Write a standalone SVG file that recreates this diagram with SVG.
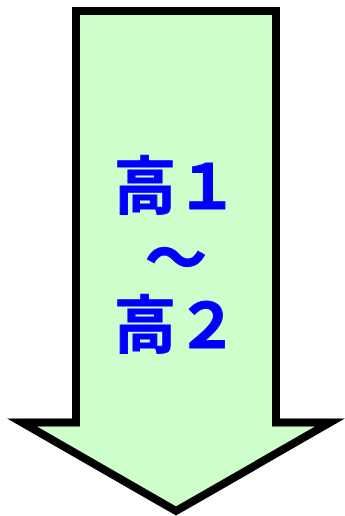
<svg xmlns="http://www.w3.org/2000/svg" width="345" height="516" viewBox="0 0 345 516">
<style>
.arrow{fill:#CCFFCC;stroke:#000;stroke-width:8;stroke-linejoin:miter;stroke-miterlimit:10}
.lbl{font-family:"Noto Sans CJK JP","Noto Sans",sans-serif;font-weight:bold;font-size:62px;fill:#0000FF;text-anchor:middle;stroke:#0000FF;stroke-width:1}
</style>
<g id="arrow">
<path class="arrow" d="M76,11 H276 V422.5 H330 L176,511 L22,422.5 H76 Z"/>
</g>
<g id="label">
<text class="lbl" x="176" y="209">高１</text>
<text class="lbl" x="176" y="281">～</text>
<text class="lbl" x="176" y="348">高２</text>
</g>
<g id="connectors"></g>
</svg>
